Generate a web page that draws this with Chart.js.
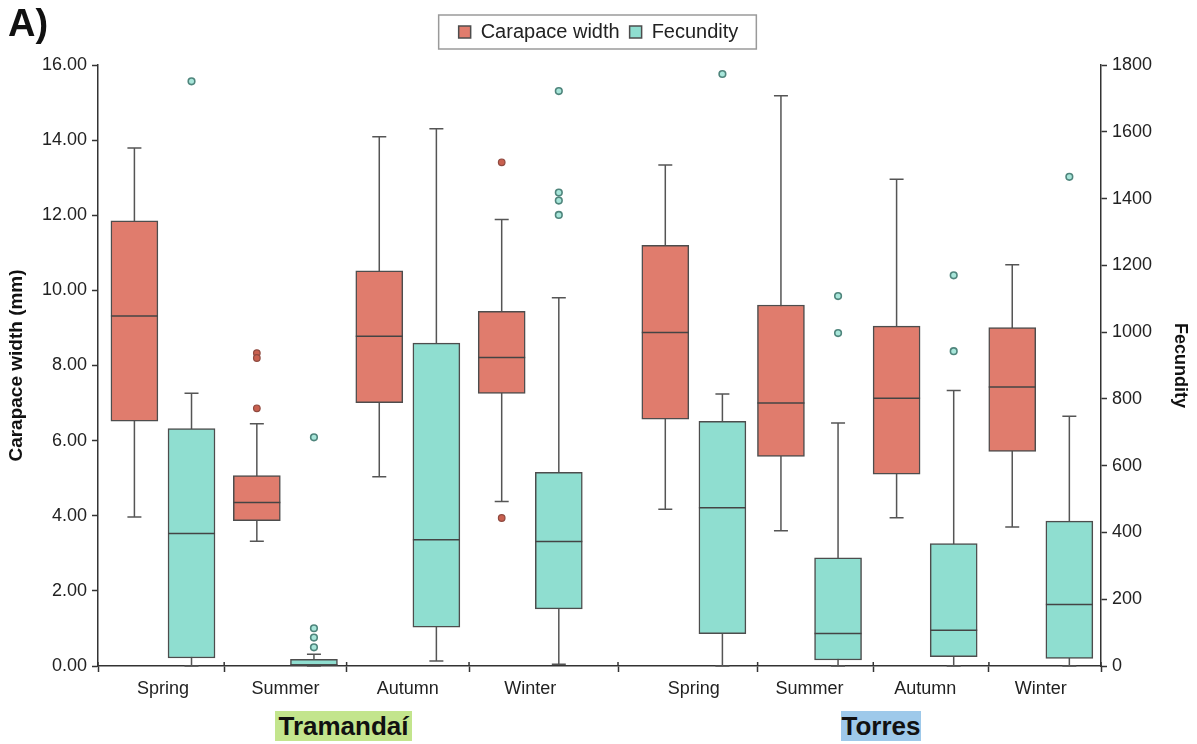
<!DOCTYPE html>
<html><head><meta charset="utf-8">
<script src="https://cdn.jsdelivr.net/npm/chart.js@4.4.0/dist/chart.umd.min.js"></script>
<style>
html,body{margin:0;padding:0;background:#fff;}
#wrap{position:relative;width:1197px;height:744px;}
#c{position:absolute;left:0;top:0;}
#lblA{position:absolute;left:8px;top:2px;font:bold 38px "Liberation Sans",Arial,sans-serif;color:#111;line-height:normal;}
.site{position:absolute;font:bold 26px "Liberation Sans",Arial,sans-serif;color:#111;line-height:30px;height:30px;text-align:center;}
</style></head><body>
<div id="wrap"><canvas id="c" width="1197" height="744" style="width:1197px;height:744px;"></canvas>
<div id="lblA">A)</div>
<div class="site" style="left:275px;top:711px;width:137px;background:#c3e58d;">Tramandaí</div>
<div class="site" style="left:841px;top:711px;width:80px;background:#9ec9ea;">Torres</div>
</div>
<script>
// ---- data ----
const categories = ['Spring','Summer','Autumn','Winter','Spring','Summer','Autumn','Winter'];
const sites = ['Tramandaí','Torres'];
// Carapace width (mm)
const cwMin = [3.97, 3.32, 5.04, 4.38, 4.17, 3.60, 3.95, 3.70];
const cwQ1  = [6.52, 3.87, 7.01, 7.26, 6.57, 5.58, 5.11, 5.71];
const cwMed = [9.32, 4.35, 8.78, 8.21, 8.88, 7.00, 7.13, 7.43];
const cwQ3  = [11.85, 5.07, 10.52, 9.44, 11.20, 9.61, 9.05, 9.01];
const cwMax = [13.79, 6.45, 14.09, 11.89, 13.34, 15.18, 12.96, 10.68];
const cwOut = [[], [8.33, 8.20, 6.86], [], [13.41, 3.94], [], [], [], []];
// Fecundity
const fMin = [0, 0, 15, 5, 0, 0, 0, 0];
const fQ1  = [24, 0, 116, 171, 97, 18, 28, 23];
const fMed = [397, 3, 378, 373, 474, 97, 107, 184];
const fQ3  = [711, 20, 967, 580, 733, 324, 367, 434];
const fMax = [817, 35, 1609, 1103, 815, 728, 825, 748];
const fOut = [[1751], [685, 113, 85, 56], [], [1722, 1418, 1394, 1351], [1773], [1108, 997], [1170, 943], [1465]];

// ---- layout helpers (category index -> x axis value) ----
const HALF = 0.24, XMIN = 0, XMAX = 8.43;
const center = i => i < 4 ? 0.546 + 1.029 * i : 5.008 + 0.972 * (i - 4);
const redX = i => center(i) - HALF;
const cyanX = i => center(i) + HALF;
const centers = categories.map((_, i) => center(i));
const bounds = [XMIN];
for (let i = 0; i < categories.length - 1; i++) bounds.push((center(i) + center(i + 1)) / 2 + (i >= 3 ? 0.05 : 0));
bounds.push(XMAX);
const allTicks = bounds.concat(centers).sort((a, b) => a - b);
const isCenter = v => centers.some(c => Math.abs(c - v) < 1e-6);

const RED = '#e07c6d', CYAN = '#8fded0', EDGE = '#4d4d4d';

Chart.defaults.font.family = '"Liberation Sans", Arial, sans-serif';
Chart.defaults.color = '#222';

const boxPlugin = {
  id: 'boxparts',
  beforeDatasetsDraw(chart) {
    const {ctx, scales: {x, y, y2}} = chart;
    ctx.save();
    ctx.strokeStyle = '#555'; ctx.lineWidth = 1.5;
    const whisk = (xv, sc, lo, hi) => {
      const px = x.getPixelForValue(xv);
      const a = sc.getPixelForValue(lo), b = sc.getPixelForValue(hi);
      ctx.beginPath();
      ctx.moveTo(px, a); ctx.lineTo(px, b);
      ctx.moveTo(px - 7, a); ctx.lineTo(px + 7, a);
      ctx.moveTo(px - 7, b); ctx.lineTo(px + 7, b);
      ctx.stroke();
    };
    categories.forEach((_, i) => {
      whisk(redX(i), y, cwMin[i], cwMax[i]);
      whisk(cyanX(i), y2, fMin[i], fMax[i]);
    });
    ctx.restore();
  },
  afterDatasetsDraw(chart) {
    const {ctx, scales: {x, y, y2}} = chart;
    ctx.save();
    ctx.strokeStyle = '#444'; ctx.lineWidth = 1.5;
    const med = (xv, sc, v) => {
      const px = x.getPixelForValue(xv), py = sc.getPixelForValue(v);
      ctx.beginPath(); ctx.moveTo(px - 23.5, py); ctx.lineTo(px + 23.5, py); ctx.stroke();
    };
    categories.forEach((_, i) => {
      med(redX(i), y, cwMed[i]);
      med(cyanX(i), y2, fMed[i]);
    });
    // tick marks crossing the x axis (upper part)
    ctx.strokeStyle = '#333';
    const yb = chart.chartArea.bottom;
    bounds.forEach(b => {
      const px = x.getPixelForValue(b);
      ctx.beginPath(); ctx.moveTo(px, yb - 4); ctx.lineTo(px, yb); ctx.stroke();
    });
    ctx.restore();
  },
  afterDraw(chart) {
    const hb = chart.legend.legendHitBoxes;
    if (!hb || !hb.length) return;
    const ctx = chart.ctx;
    const l = Math.min(...hb.map(h => h.left)) - 20;
    const r = Math.max(...hb.map(h => h.left + h.width)) + 18;
    ctx.save();
    ctx.strokeStyle = '#9a9a9a'; ctx.lineWidth = 1.5;
    ctx.strokeRect(l, 15, r - l, 34);
    ctx.restore();
  }
};

const outRed = [], outCyan = [];
cwOut.forEach((arr, i) => arr.forEach(v => outRed.push({x: redX(i), y: v})));
fOut.forEach((arr, i) => arr.forEach(v => outCyan.push({x: cyanX(i), y: v})));

new Chart(document.getElementById('c'), {
  type: 'bar',
  data: {
    datasets: [
      {label: 'Carapace width', yAxisID: 'y', grouped: false, barThickness: 47,
       backgroundColor: RED, borderColor: EDGE, borderWidth: 1.5, borderSkipped: false,
       data: categories.map((_, i) => ({x: redX(i), y: [cwQ1[i], cwQ3[i]]}))},
      {label: 'Fecundity', yAxisID: 'y2', grouped: false, barThickness: 47,
       backgroundColor: CYAN, borderColor: EDGE, borderWidth: 1.5, borderSkipped: false,
       data: categories.map((_, i) => ({x: cyanX(i), y: [fQ1[i], fQ3[i]]}))},
      {type: 'scatter', label: 'cw outliers', yAxisID: 'y', data: outRed,
       pointRadius: 3.3, pointBackgroundColor: '#c9604f', pointBorderColor: '#8f4a40', pointBorderWidth: 1.2},
      {type: 'scatter', label: 'fec outliers', yAxisID: 'y2', data: outCyan,
       pointRadius: 3.3, pointBackgroundColor: '#a8e6da', pointBorderColor: '#4f857c', pointBorderWidth: 1.6}
    ]
  },
  options: {
    responsive: false, animation: false,
    layout: {padding: {top: 12, left: 0, right: 0, bottom: 0}},
    plugins: {
      legend: {position: 'top', labels: {font: {size: 20}, color: '#222', boxWidth: 12, boxHeight: 12, padding: 10,
               filter: it => it.datasetIndex < 2}},
      title: {display: true, text: '', weight: 500, padding: {top: 0, bottom: 0}, font: {size: 13, lineHeight: 1}},
      tooltip: {enabled: false}
    },
    scales: {
      x: {type: 'linear', min: XMIN, max: XMAX, offset: false,
          afterBuildTicks: s => { s.ticks = allTicks.map(v => ({value: v})); },
          ticks: {autoSkip: false, maxRotation: 0, minRotation: 0, padding: 6, font: {size: 18}, color: '#222',
                  callback: v => { const k = centers.findIndex(c => Math.abs(c - v) < 1e-6); return k >= 0 ? categories[k] : ''; }},
          grid: {drawOnChartArea: false, offset: false, tickLength: 6, tickWidth: 1.5,
                 tickColor: c => (c.tick && isCenter(c.tick.value)) ? 'rgba(0,0,0,0)' : '#333'},
          border: {color: '#333', width: 1.5},
          afterFit: s => { s.height = 78; }},
      y: {position: 'left', min: 0, max: 16,
          ticks: {stepSize: 2, callback: v => v.toFixed(2), font: {size: 18}, color: '#222', padding: 5},
          grid: {drawOnChartArea: false, tickLength: 6, tickWidth: 1.5, tickColor: '#333'},
          border: {color: '#333', width: 1.5},
          title: {display: true, text: 'Carapace width (mm)', font: {size: 19, weight: 'bold'}, color: '#111', padding: {top: 5, bottom: 0}},
          afterFit: s => { s.width = 98; }},
      y2: {position: 'right', min: 0, max: 1800,
          ticks: {stepSize: 200, callback: v => String(v), font: {size: 18}, color: '#222', padding: 5},
          grid: {drawOnChartArea: false, tickLength: 6, tickWidth: 1.5, tickColor: '#333'},
          border: {color: '#333', width: 1.5},
          title: {display: true, text: 'Fecundity', font: {size: 18, weight: 'bold'}, color: '#111', padding: {top: 6, bottom: 0}},
          afterFit: s => { s.width = 96; }}
    }
  },
  plugins: [boxPlugin]
});
</script>
</body></html>
